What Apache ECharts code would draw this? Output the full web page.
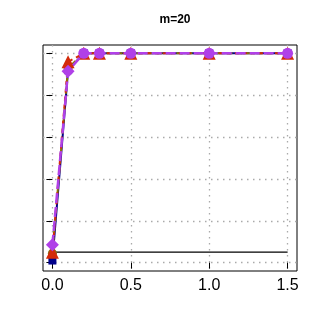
<!DOCTYPE html>
<html><head><meta charset="utf-8">
<script src="https://cdn.jsdelivr.net/npm/echarts@6/dist/echarts.min.js"></script>
<style>html,body{margin:0;padding:0;background:#fff}#c{width:321px;height:327px}</style>
</head><body><div id="c"></div>
<script>
const xVals = [0, 0.1, 0.2, 0.3, 0.5, 1.0, 1.5];
const navyVals = [0.01, 0.92, 1, 1, 1, 1, 1];
const oliveVals = [0.045, 0.93, 1, 1, 1, 1, 1];
const redVals = [0.05, 0.96, 1, 1, 1, 1, 1];
const purpleVals = [0.085, 0.915, 1, 1, 1, 1, 1];
const refLevel = 0.05;
const xTicks = [0, 0.5, 1.0, 1.5];
const yTicks = [0, 0.2, 0.4, 0.6, 0.8, 1.0];
const pairs = v => xVals.map((x, i) => [x, v[i]]);
const purpleData = xVals.map((x, i) => i < 2 ? {value: [x, purpleVals[i]], symbol: 'diamond', symbolSize: 13} : [x, purpleVals[i]]);
const chart = echarts.init(document.getElementById('c'));
chart.setOption({
  animation: false,
  title: {text: 'm=20', left: 170, top: 9, textAlign: 'center',
    textStyle: {fontFamily: 'Liberation Sans', fontSize: 12, fontWeight: 'bold', color: '#000'}},
  grid: {left: 43, right: 24, top: 45, bottom: 56, show: true, borderColor: '#000', borderWidth: 1},
  xAxis: {type: 'value', min: -0.06, max: 1.56,
    axisLine: {show: false},
    axisTick: {show: true, customValues: xTicks, length: 6, lineStyle: {color: '#000'}},
    axisLabel: {customValues: xTicks, formatter: v => v.toFixed(1), fontFamily: 'Liberation Sans', fontSize: 16, color: '#000', margin: 7},
    splitLine: {show: true, lineStyle: {color: '#aaa', type: [1.5, 4.5], width: 1.3}}},
  yAxis: {type: 'value', min: -0.04, max: 1.04,
    axisLine: {show: false},
    axisTick: {show: true, customValues: yTicks, length: 6, lineStyle: {color: '#000'}},
    axisLabel: {show: false, customValues: yTicks},
    splitLine: {show: true, lineStyle: {color: '#aaa', type: [1.5, 4.5], width: 1.3}}},
  series: [
    {type: 'line', data: [[0, refLevel], [1.5, refLevel]], symbol: 'none', lineStyle: {color: '#000', width: 1.2}, z: 1},
    {type: 'line', data: pairs(navyVals), symbol: 'rect', symbolSize: 8, itemStyle: {color: '#00008B'}, lineStyle: {color: '#00008B', width: 2}, z: 2},
    {type: 'line', data: pairs(oliveVals), symbol: 'circle', symbolSize: 9, itemStyle: {color: '#8B6B14'}, lineStyle: {color: '#8B7500', width: 2, type: [6, 4]}, z: 3},
    {type: 'line', data: pairs(redVals), symbol: 'triangle', symbolSize: 13, itemStyle: {color: '#D32A0A'}, lineStyle: {color: '#D32A0A', width: 2, type: [4, 4]}, z: 4},
    {type: 'line', data: purpleData, symbol: 'circle', symbolSize: 11, itemStyle: {color: '#B040E8'}, lineStyle: {color: '#B040E8', width: 2.5, type: [10, 4]}, z: 5}
  ]
});
</script></body></html>
